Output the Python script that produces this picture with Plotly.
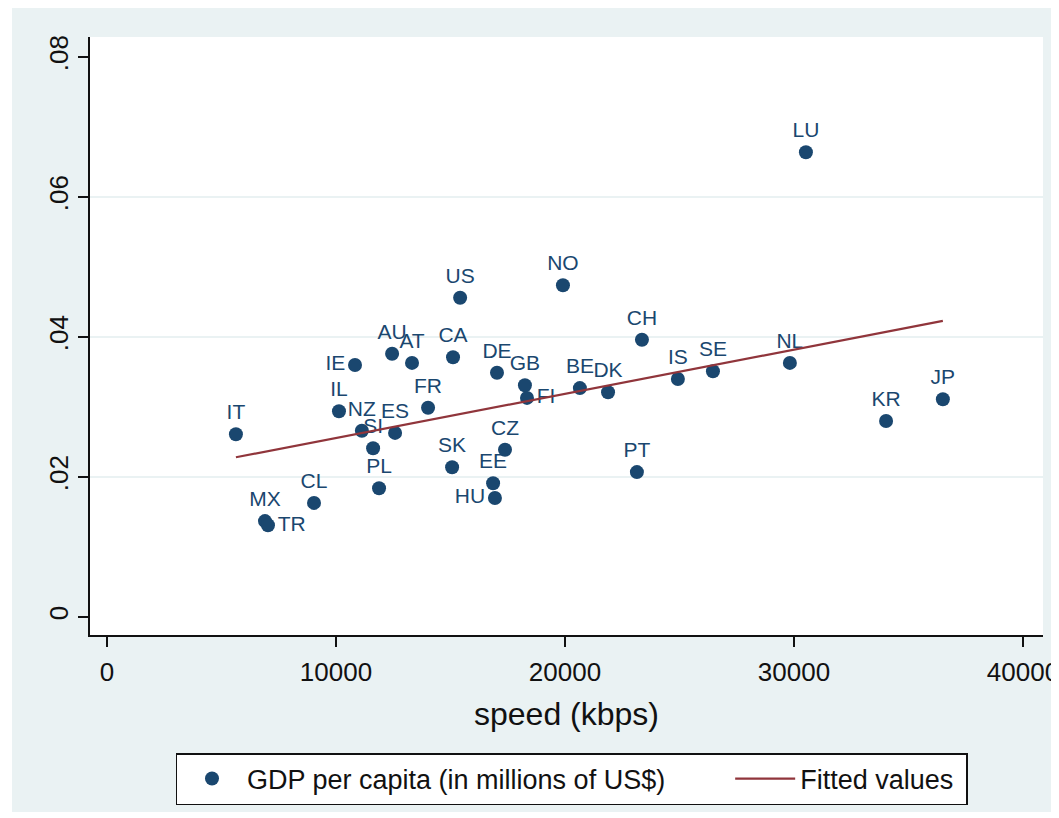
import numpy as np
import plotly.graph_objects as go

countries = ["LU", "NO", "US", "CH", "AU", "AT", "CA", "IE", "DE", "GB", "FI",
             "BE", "DK", "IS", "SE", "NL", "JP", "KR", "PT", "FR", "IL", "IT",
             "NZ", "SI", "ES", "PL", "CL", "MX", "TR", "SK", "CZ", "EE", "HU"]
speed_kbps = [30520, 19910, 15420, 23360, 12450, 13320, 15110, 10830, 17030, 18250, 18340,
              20650, 21880, 24930, 26460, 29820, 36500, 34020, 23140, 14020, 10130, 5630,
              11130, 11620, 12580, 11880, 9040, 6900, 7030, 15070, 17380, 16860, 16940]
gdp_pc_musd = [0.0664, 0.0474, 0.0456, 0.0396, 0.0376, 0.0363, 0.0371, 0.0360, 0.0349, 0.0331, 0.0313,
               0.0327, 0.0321, 0.0340, 0.0351, 0.0363, 0.0311, 0.0280, 0.0207, 0.0299, 0.0294, 0.0261,
               0.0266, 0.0241, 0.0263, 0.0184, 0.0163, 0.0137, 0.0131, 0.0214, 0.0239, 0.0191, 0.0170]
label_pos = {"IE": "middle left", "HU": "middle left", "FI": "middle right", "TR": "middle right"}

x_ticks = [0, 10000, 20000, 30000, 40000]
x_tick_text = ["0", "10000", "20000", "30000", "40000"]
y_ticks = [0, 0.02, 0.04, 0.06, 0.08]
y_tick_text = ["0", ".02", ".04", ".06", ".08"]
y_grid = [0.02, 0.04, 0.06]

NAVY = "#1a476f"
MAROON = "#90353b"
BG = "#eaf2f3"
INK = "#111111"
FONT = "Liberation Sans, Arial, sans-serif"
NB = "\u00a0"

# OLS fitted values
xs = np.array(speed_kbps, dtype=float)
ys = np.array(gdp_pc_musd, dtype=float)
slope, intercept = np.polyfit(xs, ys, 1)
x_fit = np.array([xs.min(), xs.max()])
y_fit = intercept + slope * x_fit

fig = go.Figure()
fig.add_trace(go.Scatter(
    x=speed_kbps, y=gdp_pc_musd, mode="markers+text",
    text=countries,
    textposition=[label_pos.get(c, "top center") for c in countries],
    textfont=dict(size=21, color=NAVY, family=FONT),
    marker=dict(size=14, color=NAVY, line=dict(width=0)),
    name="GDP per capita (in millions of US$)" + NB * 8,
))
fig.add_trace(go.Scatter(
    x=x_fit, y=y_fit, mode="lines",
    line=dict(color=MAROON, width=2.2),
    name="Fitted values" + NB,
))

# figure sits 8px into the page (body margin); positions below are figure pixels
L, R, T, B = 82, 24, 29, 191
W, H = 1059, 818
pw, ph = W - L - R, H - T - B

def px_x(p):
    return (p - L) / pw

def px_y(p):
    return (H - B - p) / ph

shapes = [
    dict(type="rect", xref="paper", yref="paper", x0=px_x(-5), x1=px_x(4), y0=px_y(H + 5), y1=px_y(-5),
         fillcolor="white", line=dict(width=0), layer="below"),
    dict(type="rect", xref="paper", yref="paper", x0=px_x(-5), x1=px_x(W + 5), y0=px_y(H + 5), y1=px_y(804),
         fillcolor="white", line=dict(width=0), layer="below"),
]

fig.update_layout(
    width=W, height=H,
    margin=dict(l=L, r=R, t=T, b=B, autoexpand=False),
    paper_bgcolor=BG, plot_bgcolor="white",
    font=dict(family=FONT, color=INK),
    shapes=shapes,
    showlegend=True,
    legend=dict(
        orientation="h", x=px_x(563.5), xanchor="center", y=px_y(745), yanchor="top",
        bgcolor="white", bordercolor=INK, borderwidth=1.5,
        font=dict(size=27, family=FONT, color=INK),
        itemwidth=60,
    ),
    xaxis=dict(
        range=[-742, 40873], tickmode="array", tickvals=x_ticks, ticktext=x_tick_text,
        showgrid=False, zeroline=False, showline=True, linecolor=INK, linewidth=1.5,
        ticks="outside", ticklen=10, tickwidth=1.5, tickcolor=INK, ticklabelstandoff=3,
        tickfont=dict(size=26, family=FONT, color=INK),
        title=dict(text="speed (kbps)", font=dict(size=32, family=FONT, color=INK), standoff=17),
        automargin=False,
    ),
    yaxis=dict(
        range=[-0.00257, 0.08286], tickmode="array", tickvals=y_ticks, ticktext=y_tick_text,
        showgrid=False, zeroline=False, showline=True, linecolor=INK, linewidth=1.5,
        ticks="outside", ticklen=10, tickwidth=1.5, tickcolor=INK, tickangle=-90,
        tickfont=dict(size=26, family=FONT, color=INK),
        minor=dict(tickmode="array", tickvals=y_grid, showgrid=True, gridcolor=BG, gridwidth=2, ticks=""),
        automargin=False,
    ),
)

fig.write_html("out.html")
